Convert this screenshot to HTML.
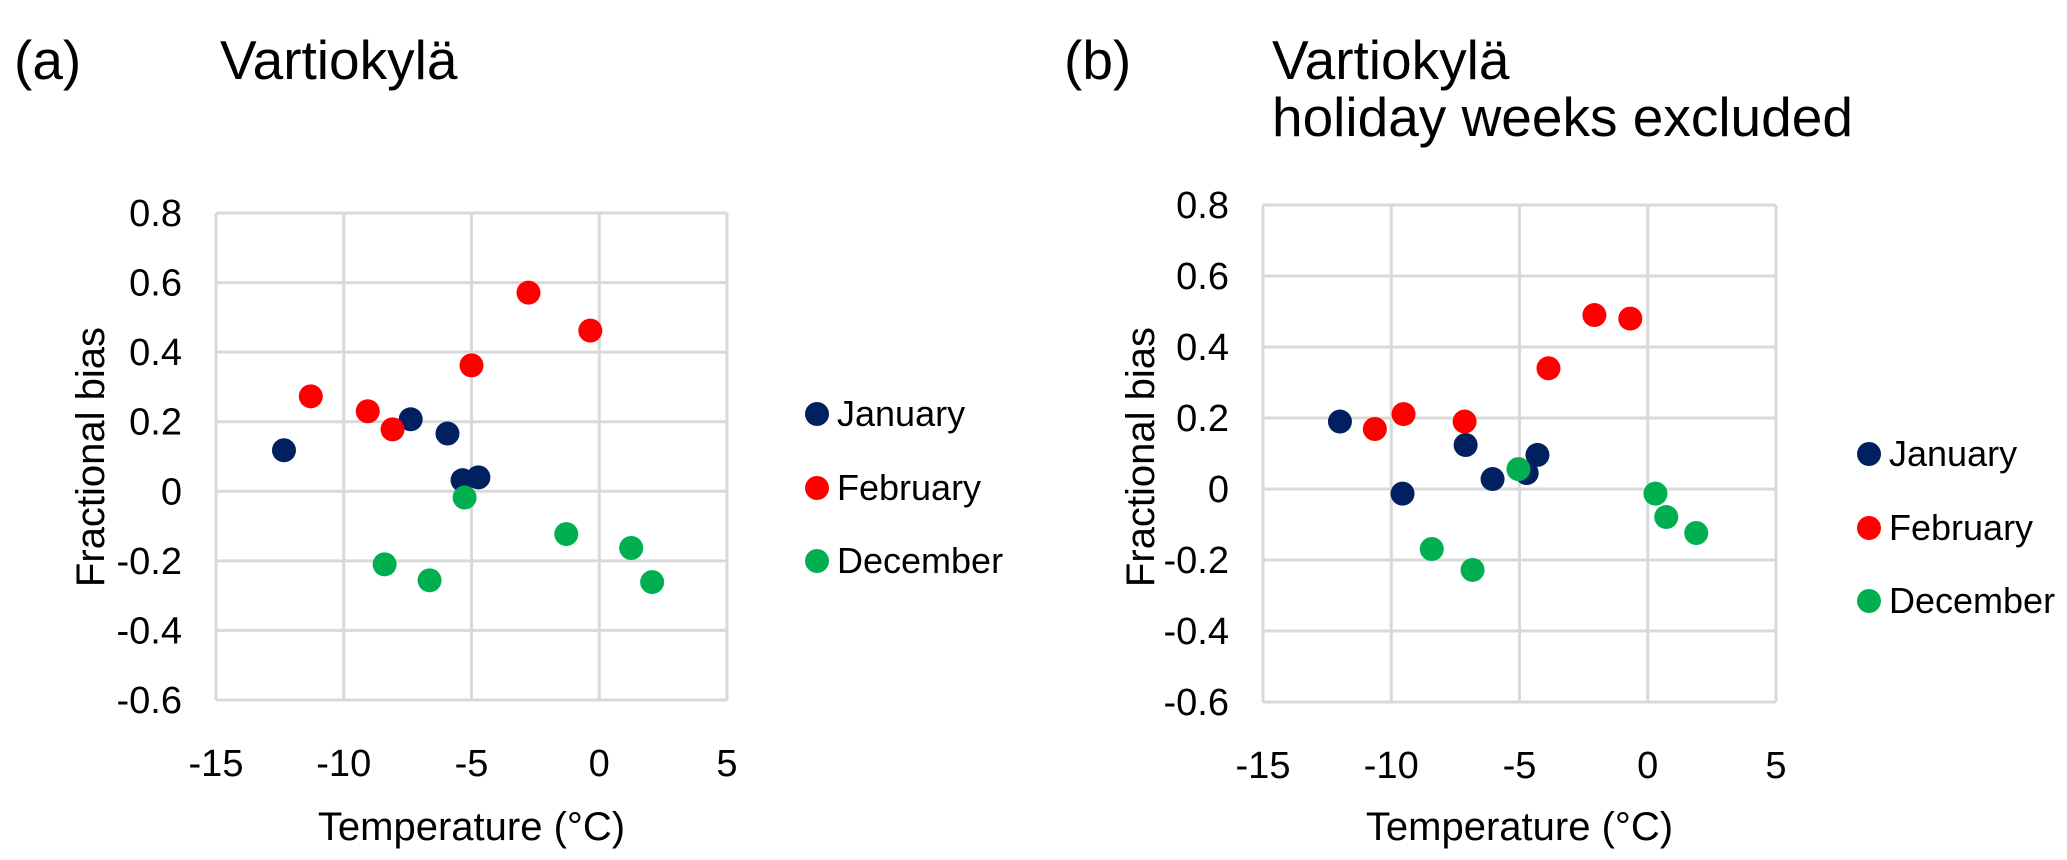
<!DOCTYPE html>
<html><head><meta charset="utf-8"><style>
html,body{margin:0;padding:0;background:#fff;}
svg text{font-family:"Liberation Sans",sans-serif;fill:#000;}
</style></head><body>
<svg id="fig" width="2067" height="855" viewBox="0 0 2067 855" xmlns="http://www.w3.org/2000/svg">
<text x="14" y="79" font-size="55">(a)</text>
<text x="220" y="79" font-size="55">Vartiokylä</text>
<text x="1064" y="79" font-size="55">(b)</text>
<text x="1272" y="79" font-size="55">Vartiokylä</text>
<text x="1272" y="136" font-size="55">holiday weeks excluded</text>
<g id="pa"></g>
<g id="pb"></g>
</svg>
<script>
const xTicks = [-15, -10, -5, 0, 5];
const yTicks = [0.8, 0.6, 0.4, 0.2, 0, -0.2, -0.4, -0.6];
const seriesNames = ["January", "February", "December"];
const seriesColors = ["#002060", "#ff0000", "#00b050"];
// Panel (a)
const aJanX = [-12.34, -7.38, -5.94, -5.35, -4.73];
const aJanY = [0.118, 0.207, 0.166, 0.032, 0.040];
const aFebX = [-11.29, -9.06, -8.09, -5.0, -2.77, -0.35];
const aFebY = [0.273, 0.230, 0.178, 0.362, 0.571, 0.462];
const aDecX = [-8.4, -6.64, -5.27, -1.29, 1.25, 2.07];
const aDecY = [-0.21, -0.256, -0.018, -0.123, -0.163, -0.261];
// Panel (b)
const bJanX = [-12.0, -9.56, -7.1, -6.05, -4.72, -4.3];
const bJanY = [0.19, -0.013, 0.124, 0.028, 0.045, 0.096];
const bFebX = [-10.64, -9.52, -7.14, -3.87, -2.08, -0.68];
const bFebY = [0.169, 0.211, 0.19, 0.34, 0.49, 0.48];
const bDecX = [-8.42, -6.83, -5.04, 0.3, 0.72, 1.89];
const bDecY = [-0.169, -0.228, 0.056, -0.013, -0.079, -0.124];

const NS = "http://www.w3.org/2000/svg";
function mk(tag, attrs, parent){const e=document.createElementNS(NS,tag);for(const k in attrs)e.setAttribute(k,attrs[k]);parent.appendChild(e);return e;}

function drawPanel(g, cfg, series){
  const sx = v => cfg.left + (v - (-15)) / 20 * (cfg.right - cfg.left);
  const sy = v => cfg.top + (0.8 - v) / 1.4 * (cfg.bottom - cfg.top);
  xTicks.forEach(t=>{
    const l = mk("line",{x1:sx(t),x2:sx(t),y1:cfg.top,y2:cfg.bottom,stroke:"#d9d9d9","stroke-width":3},g);
    
    
    const tx = mk("text",{x:sx(t),y:cfg.bottom+76,"font-size":38,"text-anchor":"middle"},g);
    tx.textContent = String(t);
    
    
  });
  yTicks.forEach(t=>{
    const l = mk("line",{x1:cfg.left,x2:cfg.right,y1:sy(t),y2:sy(t),stroke:"#d9d9d9","stroke-width":3},g);
    
    
    const tx = mk("text",{x:cfg.left-34,y:sy(t)+13,"font-size":38,"text-anchor":"end"},g);
    tx.textContent = String(t);
    
    
  });
  const xt = mk("text",{x:(cfg.left+cfg.right)/2,y:840,"font-size":40,"text-anchor":"middle"},g);
  xt.textContent = "Temperature (°C)";
  
  
  const yt = mk("text",{x:0,y:0,"font-size":40,"text-anchor":"middle",transform:`translate(${cfg.ytx},${cfg.tyc}) rotate(-90)`},g);
  yt.textContent = "Fractional bias";
  
  
  series.forEach((s,i)=>{
    s[0].forEach((xv,j)=>{
      const c = mk("circle",{cx:sx(xv),cy:sy(s[1][j]),r:12,fill:seriesColors[i]},g);
      
      
    });
    const lm = mk("circle",{cx:cfg.legX,cy:cfg.legY[i],r:12,fill:seriesColors[i]},g);
    
    
    const lt = mk("text",{x:cfg.legX+20,y:cfg.legY[i]+12,"font-size":36},g);
    lt.textContent = seriesNames[i];
    
    
  });
}
drawPanel(document.getElementById("pa"),
  {left:216,right:727,top:213,bottom:700,ytx:104,tyc:457,legX:817,legY:[414,488,561]},
  [[aJanX,aJanY],[aFebX,aFebY],[aDecX,aDecY]]);
drawPanel(document.getElementById("pb"),
  {left:1263,right:1776,top:205,bottom:702,ytx:1154,tyc:457,legX:1869,legY:[454,528,601]},
  [[bJanX,bJanY],[bFebX,bFebY],[bDecX,bDecY]]);
</script>
</body></html>
